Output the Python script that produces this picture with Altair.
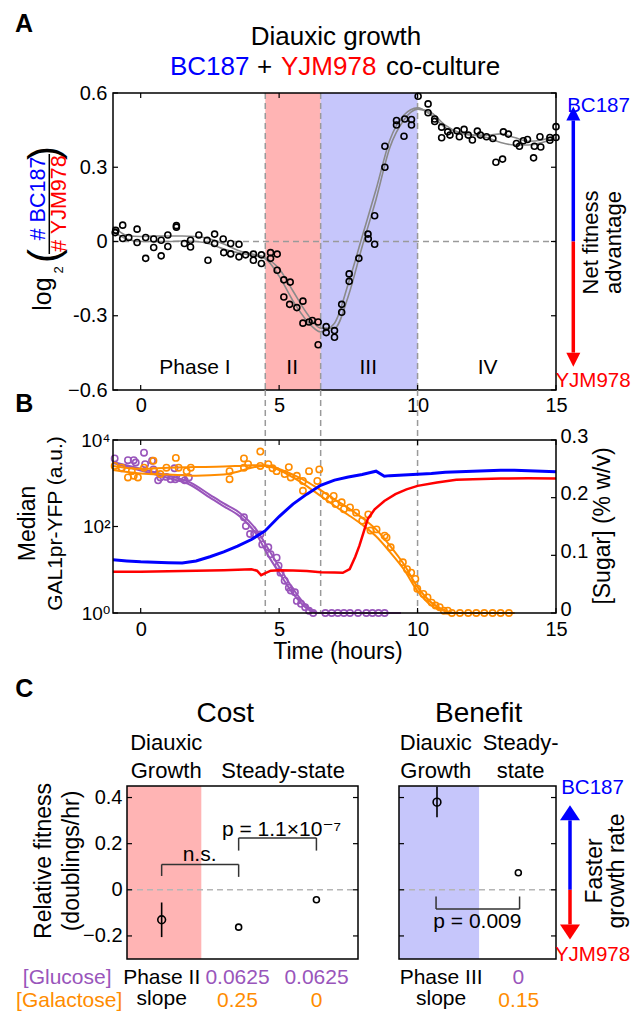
import altair as alt
import pandas as pd

FONT = "Liberation Sans, Arial, DejaVu Sans"
PINK = "#ffb4b4"
LAV = "#c6c6fb"
DASHGRAY = "#9a9a9a"
FITGRAY = "#8a8a8a"
PURPLE = "#9955bb"
ORANGE = "#ff8c00"
BLUE = "#0000ff"
RED = "#ff0000"

# ---------------- Panel A data ----------------
A_time = [-0.92, -0.90, -0.65, -0.65, -0.43, -0.13, -0.13, 0.18, 0.18, 0.47, 0.47, 0.74, 0.74, 0.98, 0.98,
          1.29, 1.29, 1.58, 1.80, 1.80, 2.10, 2.40, 2.43, 2.67, 2.67, 2.98, 3.00, 3.25, 3.25, 3.55, 3.55,
          3.79, 4.07, 4.07, 4.36, 4.36, 4.69, 4.69, 4.93, 4.93,
          5.17, 5.40, 5.17, 5.38, 5.64, 5.86, 5.86, 6.08, 6.20, 6.41, 6.41,
          6.70, 6.70, 7.00, 7.00, 7.26, 7.26, 7.53, 7.53, 7.88, 8.21, 8.22, 8.45, 8.45, 8.82, 8.82,
          9.24, 9.24, 9.54, 9.51, 9.78, 9.78, 10.02,
          10.38, 10.38, 10.62, 10.62, 10.87, 10.87, 11.09, 11.17, 11.42, 11.51, 11.68, 11.83, 11.98, 12.16,
          12.27, 12.49, 12.72, 12.83, 13.07, 13.10, 13.28, 13.57, 13.68, 13.82, 13.97, 14.19, 14.22, 14.42,
          14.45, 14.78, 14.78, 15.00, 15.00]
A_ratio = [0.036, 0.045, 0.066, 0.012, 0.016, 0.050, -0.004, -0.068, 0.016, -0.024, 0.010, 0.005, -0.058, 0.026, -0.020,
           0.064, 0.058, -0.008, 0.005, -0.022, 0.026, 0.005, -0.076, 0.030, -0.008, 0.010, -0.045, -0.008, -0.050, -0.011, -0.062,
           -0.054, -0.051, -0.076, -0.054, -0.089, -0.045, -0.068, -0.051, -0.116,
           -0.155, -0.164, -0.224, -0.254, -0.267, -0.241, -0.330, -0.325, -0.319, -0.325, -0.417,
           -0.344, -0.368, -0.360, -0.387, -0.286, -0.254, -0.161, -0.131, -0.068, 0.030, 0.011, -0.011, 0.104, 0.300, 0.385,
           0.489, 0.471, 0.495, 0.425, 0.493, 0.471, 0.587,
           0.556, 0.520, 0.495, 0.485, 0.462, 0.419, 0.443, 0.430, 0.447, 0.423, 0.453, 0.430, 0.410, 0.446,
           0.430, 0.423, 0.416, 0.320, 0.333, 0.443, 0.434, 0.396, 0.385, 0.407, 0.412, 0.338, 0.385, 0.423,
           0.382, 0.409, 0.420, 0.464, 0.420]
A_fit_time = [-1, -0.5, 0, 0.5, 1, 1.5, 2, 2.5, 3, 3.5, 4, 4.5, 5, 5.5, 6, 6.5, 7, 7.5, 8, 8.5, 9, 9.5, 10,
              10.5, 11, 11.5, 12, 12.5, 13, 13.5, 14, 14.5, 15]
A_fit_1 = [0.06, 0.025, 0.02, 0.022, 0.022, 0.022, 0.02, 0.01, -0.01, -0.035, -0.05, -0.065, -0.11, -0.2, -0.29,
           -0.35, -0.35, -0.22, -0.02, 0.17, 0.38, 0.49, 0.535, 0.52, 0.47, 0.44, 0.43, 0.43, 0.435, 0.42, 0.405, 0.41, 0.43]
A_fit_2 = [0.04, 0.01, 0.0, 0.0, 0.0, 0.002, 0.0, -0.01, -0.03, -0.045, -0.055, -0.07, -0.14, -0.24, -0.32,
           -0.365, -0.33, -0.17, 0.02, 0.21, 0.41, 0.51, 0.54, 0.51, 0.46, 0.44, 0.43, 0.42, 0.40, 0.39, 0.39, 0.40, 0.42]
phase_edges = [4.5, 6.5, 10.0]
shade_phase = ["II", "III"]
shade_start = [4.5, 6.5]
shade_end = [6.5, 10.0]
phase_names = ["Phase I", "II", "III", "IV"]
phase_label_time = [1.96, 5.47, 8.22, 12.53]
time_ticks = [0, 5, 10, 15]
A_yticks = [-0.6, -0.3, 0, 0.3, 0.6]
A_ytick_labels = ["\u22120.6", "-0.3", "0", "0.3", "0.6"]
A_arrow_up_base = [0.489]
A_arrow_down_base = [-0.449]

# ---------------- Panel B data ----------------
blue_time = [-1, -0.5, 0, 0.5, 1, 1.5, 2, 2.5, 3, 3.5, 4, 4.5, 5, 5.5, 6, 6.5, 7, 7.5, 8, 8.3, 8.5, 8.8, 9, 9.5,
             10, 10.5, 11, 11.5, 12, 12.5, 13, 13.5, 14, 14.5, 15]
blue_yfp = [17, 16, 15.3, 15, 14.6, 14.3, 16, 20, 26, 35, 50, 80, 170, 330, 560, 900, 1180, 1400, 1600, 1780, 1900,
            1450, 1500, 1560, 1620, 1680, 1800, 1850, 1900, 1950, 2000, 2000, 1950, 1900, 1850]
red_time = [-1, 0, 1, 2, 3, 4, 4.2, 4.35, 4.5, 4.7, 5, 5.5, 6, 6.5, 7, 7.3, 7.55, 7.75, 7.9, 8.2, 8.45, 8.8, 9.2,
            9.6, 10, 10.7, 11.4, 12, 13, 14, 15]
red_yfp = [9.0, 9.0, 9.2, 9.5, 9.8, 10.3, 9.5, 7.5, 8.4, 9.5, 9.8, 9.6, 9.3, 8.7, 8.6, 8.5, 10.4, 20, 36, 148, 250,
           390, 560, 720, 870, 1040, 1200, 1240, 1280, 1300, 1290]
glc_time = [-0.94, -0.69, -0.46, -0.25, -0.18, 0.12, 0.16, 0.41, 0.46, 0.63, 0.71, 0.93, 1.08, 1.22, 1.25, 1.49,
            1.59, 1.74, 3.73, 3.80, 3.95, 4.10, 4.32, 4.39, 4.61, 4.69, 4.91, 4.98, 5.05, 5.20, 5.35, 5.42, 5.57,
            5.64, 5.79, 5.94, 6.08, 6.23, 6.67, 6.90, 7.12, 7.34, 7.56, 7.85, 8.15, 8.37, 8.59, 8.81]
glc_conc = [0.268, 0.251, 0.265, 0.265, 0.261, 0.278, 0.258, 0.264, 0.249, 0.230, 0.235, 0.236, 0.232, 0.251, 0.232,
            0.234, 0.230, 0.235, 0.166, 0.151, 0.137, 0.137, 0.136, 0.119, 0.114, 0.102, 0.096, 0.082, 0.070, 0.056,
            0.044, 0.039, 0.036, 0.021, 0.016, 0.010, 0.004, 0.0, 0, 0, 0, 0, 0, 0, 0, 0, 0, 0]
glc_fit_time = [-1, 0, 1, 1.8, 2.5, 3, 3.57, 4.17, 4.65, 5, 5.5, 6, 6.4, 9.4]
glc_fit_1 = [0.262, 0.25, 0.238, 0.226, 0.205, 0.19, 0.174, 0.145, 0.108, 0.08, 0.042, 0.012, 0.0, 0.0]
glc_fit_2 = [0.26, 0.247, 0.234, 0.222, 0.2, 0.185, 0.168, 0.137, 0.096, 0.07, 0.034, 0.008, 0.0, 0.0]
gal_time = [-0.94, -0.69, -0.46, -0.32, -0.25, -0.10, 0.12, 0.46, 0.49, 0.71, 0.93, 1.27, 1.37, 1.66, 1.81, 3.21,
            3.21, 3.73, 3.73, 3.88, 4.32, 4.32, 4.61, 4.76, 4.91, 5.20, 5.35, 5.42, 5.64, 5.86, 5.86, 6.08, 6.38,
            6.45, 6.67, 6.82, 6.97, 7.04, 7.26, 7.34, 7.56, 7.78, 8.0, 8.22, 8.30, 8.52, 8.81, 8.88, 9.03, 9.47,
            9.62, 9.77, 9.92, 9.99, 10.21, 10.36, 10.51, 10.65, 10.80, 10.95, 11.09, 11.24, 11.53, 11.83, 12.12,
            12.41, 12.71, 13.0, 13.30]
gal_conc = [0.255, 0.252, 0.235, 0.246, 0.238, 0.235, 0.252, 0.264, 0.246, 0.241, 0.252, 0.269, 0.252, 0.246, 0.252,
            0.246, 0.232, 0.268, 0.252, 0.258, 0.280, 0.255, 0.258, 0.251, 0.246, 0.241, 0.253, 0.235, 0.238, 0.229,
            0.212, 0.246, 0.229, 0.249, 0.203, 0.197, 0.203, 0.189, 0.192, 0.18, 0.183, 0.174, 0.16, 0.171, 0.143,
            0.145, 0.134, 0.131, 0.114, 0.088, 0.076, 0.070, 0.059, 0.042, 0.033, 0.027, 0.018, 0.013, 0.010, 0.004,
            0.004, 0, 0, 0, 0, 0, 0, 0, 0]
gal_fit_time = [-1, 0, 1, 2, 3, 3.5, 4, 4.5, 5, 5.5, 6, 6.5, 7, 7.5, 8, 8.5, 9, 9.5, 10, 10.5, 11, 11.3, 13.5]
gal_fit_1 = [0.255, 0.25, 0.252, 0.253, 0.254, 0.255, 0.256, 0.256, 0.25, 0.24, 0.228, 0.213, 0.197, 0.182, 0.165,
             0.145, 0.117, 0.085, 0.045, 0.018, 0.004, 0.0, 0.0]
gal_fit_2 = [0.248, 0.242, 0.24, 0.238, 0.24, 0.245, 0.252, 0.255, 0.248, 0.235, 0.22, 0.203, 0.186, 0.17, 0.153,
             0.133, 0.106, 0.076, 0.038, 0.013, 0.003, 0.0, 0.0]
yfp_ticks = [1, 100, 10000]
yfp_tick_labels = ["10\u2070", "10\u00b2", "10\u2074"]
sugar_ticks = [0, 0.1, 0.2, 0.3]
sugar_tick_labels = ["0", "0.1", "0.2", "0.3"]

# ---------------- Panel C data ----------------
cost_x = [0.45, 1.45, 2.46]
cost_fit = [-0.13, -0.162, -0.043]
cost_err_lo = [-0.205]
cost_err_hi = [-0.055]
cost_shade_end = [0.965]
cost_brk_h = {"x": [0.45, 1.45], "x2": [1.45, 2.46], "y": [0.11, 0.225]}
cost_brk_v = {"x": [0.45, 1.45, 1.45, 2.46], "y": [0.06, 0.056, 0.17, 0.17], "y2": [0.11, 0.11, 0.225, 0.225]}
cost_p_x = [0.943, 2.007]
cost_p_y = [0.123, 0.232]
cost_p_text = ["n.s.", "p = 1.1\u00d710\u207b\u2077"]
ben_x = [0.242, 0.76]
ben_fit = [0.38, 0.074]
ben_err_lo = [0.315]
ben_err_hi = [0.447]
ben_shade_end = [0.51]
ben_brk_h = {"x": [0.236], "x2": [0.768], "y": [-0.083]}
ben_brk_v = {"x": [0.236, 0.768], "y": [-0.083, -0.083], "y2": [-0.029, -0.029]}
ben_p_x = [0.499]
ben_p_y = [-0.165]
ben_p_text = ["p = 0.009"]
C_yticks = [-0.2, 0, 0.2, 0.4]
C_ytick_labels = ["\u22120.2", "0", "0.2", "0.4"]
C_arrow_up_base = [0.301]
C_arrow_down_base = [-0.15]

ONE = pd.DataFrame({"k": [0]})
UP_A = "M0,-1L-0.5,0L0.5,0Z"
DOWN_A = "M0,1L-0.5,0L0.5,0Z"
UP_C = "M0,-1L-0.667,0L0.667,0Z"
DOWN_C = "M0,1L-0.667,0L0.667,0Z"


def lexpr(vals, labels):
    e = "''"
    for v, l in zip(vals, labels):
        e = f"abs(datum.value - ({v})) < 1e-6 ? '{l}' : ({e})"
    return e


def T(s, x, y, size=21, color="black", angle=0, align="center", baseline="middle", weight="normal"):
    kw = dict(text=s, font=FONT, fontSize=size, color=color, align=align, baseline=baseline, fontWeight=weight)
    if angle:
        kw["angle"] = angle
    return alt.Chart(ONE).mark_text(**kw).encode(x=alt.value(x), y=alt.value(y))


def frame(W, H):
    return alt.Chart(ONE).mark_rect(fillOpacity=0, stroke="black", strokeWidth=1.5).encode(
        x=alt.value(0), x2=alt.value(W), y=alt.value(0), y2=alt.value(H))


def anchor(x, y):
    return alt.Chart(ONE).mark_rect(opacity=0).encode(
        x=alt.value(x), x2=alt.value(x + 4), y=alt.value(y), y2=alt.value(y + 4))


def yticks_in(vals, Y, W, left=True, right=True):
    d = pd.DataFrame({"v": vals})
    out = []
    if left:
        out.append(alt.Chart(d).mark_rule(color="black", strokeWidth=1.2).encode(y=Y("v"), x=alt.value(0), x2=alt.value(5)))
    if right:
        out.append(alt.Chart(d).mark_rule(color="black", strokeWidth=1.2).encode(y=Y("v"), x=alt.value(W - 5), x2=alt.value(W)))
    return out


def xticks_in(vals, X, H):
    d = pd.DataFrame({"t": vals})
    return [alt.Chart(d).mark_rule(color="black", strokeWidth=1.2).encode(x=X("t"), y=alt.value(H - 5), y2=alt.value(H)),
            alt.Chart(d).mark_rule(color="black", strokeWidth=1.2).encode(x=X("t"), y=alt.value(0), y2=alt.value(5))]


def arrow(Y, xpix, up_base, down_base, up_shape, down_shape, size):
    up = alt.Chart(pd.DataFrame({"y0": [0], "y1": up_base})).mark_rule(strokeWidth=3.5, color=BLUE).encode(
        y=Y("y0"), y2="y1", x=alt.value(xpix))
    dn = alt.Chart(pd.DataFrame({"y0": [0], "y1": down_base})).mark_rule(strokeWidth=3.5, color=RED).encode(
        y=Y("y0"), y2="y1", x=alt.value(xpix))
    hu = alt.Chart(pd.DataFrame({"v": up_base})).mark_point(
        shape=up_shape, filled=True, size=size, color=BLUE, opacity=1, strokeWidth=0).encode(y=Y("v"), x=alt.value(xpix))
    hd = alt.Chart(pd.DataFrame({"v": down_base})).mark_point(
        shape=down_shape, filled=True, size=size, color=RED, opacity=1, strokeWidth=0).encode(y=Y("v"), x=alt.value(xpix))
    return [up, dn, hu, hd]


# ================= Panel A =================
W_A, H_A = 443, 297


def XT(f):
    return alt.X(f"{f}:Q", scale=alt.Scale(domain=[-1, 15], nice=False, zero=False),
                 axis=alt.Axis(values=time_ticks, title=None, labelPadding=5, labelFlush=False))


def XTB(f):
    return alt.X(f"{f}:Q", scale=alt.Scale(domain=[-1, 15], nice=False, zero=False),
                 axis=alt.Axis(values=time_ticks, title=None, labelPadding=6.5, labelFlush=False))


def YA(f):
    return alt.Y(f"{f}:Q", scale=alt.Scale(domain=[-0.6, 0.6], nice=False, zero=False),
                 axis=alt.Axis(values=A_yticks, labelExpr=lexpr(A_yticks, A_ytick_labels), title=None,
                               labelPadding=6, labelFlush=False))


shade_df = pd.DataFrame({"phase": shade_phase, "x0": shade_start, "x1": shade_end})
shadeA = alt.Chart(shade_df).mark_rect().encode(
    x=XT("x0"), x2="x1", y=alt.value(0), y2=alt.value(H_A),
    color=alt.Color("phase:N", scale=alt.Scale(domain=shade_phase, range=[PINK, LAV]), legend=None))
edges_df = pd.DataFrame({"t": phase_edges})
vdashA = alt.Chart(edges_df).mark_rule(color=DASHGRAY, strokeDash=[6, 4], strokeWidth=1.5).encode(
    x=XT("t"), y=alt.value(0), y2=alt.value(H_A))
zeroA = alt.Chart(pd.DataFrame({"v": [0]})).mark_rule(color=DASHGRAY, strokeDash=[6, 4], strokeWidth=1.5).encode(
    y=YA("v"), x=alt.value(0), x2=alt.value(W_A))
fit_df = pd.concat([pd.DataFrame({"t": A_fit_time, "v": A_fit_1, "fit": "1"}),
                    pd.DataFrame({"t": A_fit_time, "v": A_fit_2, "fit": "2"})])
fitA = alt.Chart(fit_df).mark_line(color=FITGRAY, strokeWidth=1.6, interpolate="monotone").encode(
    x=XT("t"), y=YA("v"), detail="fit:N")
ptsA = alt.Chart(pd.DataFrame({"t": A_time, "v": A_ratio})).mark_point(
    shape="circle", filled=False, color="black", size=36, strokeWidth=1.6, opacity=1).encode(x=XT("t"), y=YA("v"))
phase_lbl = alt.Chart(pd.DataFrame({"t": phase_label_time, "name": phase_names})).mark_text(
    font=FONT, fontSize=21, color="black", baseline="middle").encode(x=XT("t"), y=alt.value(275), text="name:N")
fracbarA = alt.Chart(ONE).mark_rule(color="black", strokeWidth=1.5).encode(
    x=alt.value(-63.7), y=alt.value(61), y2=alt.value(161))

panelA = alt.layer(
    anchor(-105, -84.3),
    shadeA, vdashA, zeroA, fitA, ptsA, phase_lbl,
    *arrow(YA, 460.3, A_arrow_up_base, A_arrow_down_base, UP_A, DOWN_A, 784),
    *yticks_in(A_yticks, YA, W_A), *xticks_in(time_ticks, XT, H_A), frame(W_A, H_A), fracbarA,
    T("A", -89, -69, size=25, weight="bold"),
    T("Diauxic growth", 223, -56, size=26),
    T("BC187", 57, -18, size=26, color=BLUE, align="left", baseline="alphabetic"),
    T("+", 144, -18, size=26, align="left", baseline="alphabetic"),
    T("YJM978", 168, -18, size=26, color=RED, align="left", baseline="alphabetic"),
    T("co-culture", 273, -18, size=26, align="left", baseline="alphabetic"),
    T(")", -55, 60, size=42, angle=270, baseline="alphabetic"),
    T("(", -55, 163, size=42, angle=270, baseline="alphabetic"),
    T("# BC187", -68, 105.5, size=21.5, color=BLUE, angle=270, baseline="alphabetic"),
    T("# YJM978", -47, 110.5, size=21.5, color=RED, angle=270, baseline="alphabetic"),
    T("log", -62, 201, size=25, angle=270, baseline="alphabetic"),
    T("2", -50, 177, size=13, angle=270, baseline="alphabetic"),
    T("BC187", 485.5, 19.4, size=20.5, color=BLUE, baseline="alphabetic"),
    T("YJM978", 480, 294.4, size=20.5, color=RED, baseline="alphabetic"),
    T("Net fitness", 485.3, 149.5, size=22, angle=270, baseline="alphabetic"),
    T("advantage", 507.5, 149.5, size=22, angle=270, baseline="alphabetic"),
).properties(width=W_A, height=H_A)

# ================= Panel B =================
W_B, H_B = 443, 173


def YL(f):
    return alt.Y(f"{f}:Q", scale=alt.Scale(type="log", domain=[1, 10000], nice=False),
                 axis=alt.Axis(orient="left", values=yfp_ticks, labelExpr=lexpr(yfp_ticks, yfp_tick_labels),
                               title=None, labelPadding=3, labelFlush=False, labelFontSize=19))


def YR(f):
    return alt.Y(f"{f}:Q", scale=alt.Scale(domain=[0, 0.3], nice=False, zero=False),
                 axis=alt.Axis(orient="right", values=sugar_ticks, labelExpr=lexpr(sugar_ticks, sugar_tick_labels),
                               title=None, labelPadding=4, labelFlush=False, labelOffset=-4))


vdashB = alt.Chart(edges_df).mark_rule(color=DASHGRAY, strokeDash=[6, 4], strokeWidth=1.5).encode(
    x=XTB("t"), y=alt.value(-50), y2=alt.value(H_B))
glc_pts = alt.Chart(pd.DataFrame({"t": glc_time, "s": glc_conc})).mark_point(
    shape="circle", filled=False, color=PURPLE, size=40, strokeWidth=1.6, opacity=1).encode(x=XTB("t"), y=YR("s"))
glc_fit_df = pd.concat([pd.DataFrame({"t": glc_fit_time, "s": glc_fit_1, "fit": "1"}),
                        pd.DataFrame({"t": glc_fit_time, "s": glc_fit_2, "fit": "2"})])
glc_fit = alt.Chart(glc_fit_df).mark_line(color=PURPLE, strokeWidth=2, interpolate="monotone").encode(
    x=XTB("t"), y=YR("s"), detail="fit:N")
gal_pts = alt.Chart(pd.DataFrame({"t": gal_time, "s": gal_conc})).mark_point(
    shape="circle", filled=False, color=ORANGE, size=40, strokeWidth=1.6, opacity=1).encode(x=XTB("t"), y=YR("s"))
gal_fit_df = pd.concat([pd.DataFrame({"t": gal_fit_time, "s": gal_fit_1, "fit": "1"}),
                        pd.DataFrame({"t": gal_fit_time, "s": gal_fit_2, "fit": "2"})])
gal_fit = alt.Chart(gal_fit_df).mark_line(color=ORANGE, strokeWidth=2, interpolate="monotone").encode(
    x=XTB("t"), y=YR("s"), detail="fit:N")
sugar_layer = alt.layer(vdashB, glc_fit, glc_pts, gal_fit, gal_pts,
                        *yticks_in(sugar_ticks, YR, W_B, left=False, right=True))

blue_line = alt.Chart(pd.DataFrame({"t": blue_time, "y": blue_yfp})).mark_line(color=BLUE, strokeWidth=3).encode(
    x=XTB("t"), y=YL("y"))
red_line = alt.Chart(pd.DataFrame({"t": red_time, "y": red_yfp})).mark_line(color=RED, strokeWidth=2.5).encode(
    x=XTB("t"), y=YL("y"))
yfp_layer = alt.layer(blue_line, red_line, *yticks_in(yfp_ticks, YL, W_B, left=True, right=False),
                      *xticks_in(time_ticks, XTB, H_B), frame(W_B, H_B),
                      T("B", -88.6, -36, size=25, weight="bold"),
                      T("Median", -78, 83.5, size=23, angle=270, baseline="alphabetic"),
                      T("GAL1pr-YFP (a.u.)", -51, 83.5, size=21, angle=270, baseline="alphabetic"),
                      T("[Sugar] (% w/v)", 497, 86, size=23, angle=270, baseline="alphabetic"),
                      T("Time (hours)", 225, 211.8, size=23))

panelB = alt.layer(sugar_layer, yfp_layer).resolve_scale(y="independent").properties(width=W_B, height=H_B)

# ================= Panel C =================
W_CL, W_CR, H_C = 231, 157, 173


def YC(f):
    return alt.Y(f"{f}:Q", scale=alt.Scale(domain=[-0.3, 0.45], nice=False, zero=False),
                 axis=alt.Axis(values=C_yticks, labelExpr=lexpr(C_yticks, C_ytick_labels), title=None,
                               labelPadding=5, labelFlush=False))


def YCn(f):
    return alt.Y(f"{f}:Q", scale=alt.Scale(domain=[-0.3, 0.45], nice=False, zero=False), axis=None)


def XCL(f):
    return alt.X(f"{f}:Q", scale=alt.Scale(domain=[0, 3], nice=False, zero=False), axis=None)


def XCR(f):
    return alt.X(f"{f}:Q", scale=alt.Scale(domain=[0, 1], nice=False, zero=False), axis=None)


def c_panel(X, Y, W, shade_color, shade_end, xs, ys, err_lo, err_hi, brk_h, brk_v, p_x, p_y, p_text):
    shade = alt.Chart(pd.DataFrame({"x0": [0], "x1": shade_end})).mark_rect(color=shade_color).encode(
        x=X("x0"), x2="x1", y=alt.value(0), y2=alt.value(H_C))
    zero = alt.Chart(pd.DataFrame({"v": [0]})).mark_rule(color="#b5b5b5", strokeDash=[6, 4], strokeWidth=1.5).encode(
        y=Y("v"), x=alt.value(0), x2=alt.value(W))
    err = alt.Chart(pd.DataFrame({"x": xs[:1], "lo": err_lo, "hi": err_hi})).mark_rule(
        color="black", strokeWidth=1.6).encode(x=X("x"), y=Y("lo"), y2="hi")
    p_main = alt.Chart(pd.DataFrame({"x": xs[:1], "v": ys[:1]})).mark_point(
        shape="circle", filled=False, color="black", size=60, strokeWidth=1.6, opacity=1).encode(x=X("x"), y=Y("v"))
    p_ss = alt.Chart(pd.DataFrame({"x": xs[1:], "v": ys[1:]})).mark_point(
        shape="circle", filled=False, color="black", size=36, strokeWidth=1.6, opacity=1).encode(x=X("x"), y=Y("v"))
    bh = alt.Chart(pd.DataFrame(brk_h)).mark_rule(color="#333333", strokeWidth=1.5).encode(
        x=X("x"), x2="x2", y=Y("y"))
    bv = alt.Chart(pd.DataFrame(brk_v)).mark_rule(color="#333333", strokeWidth=1.5).encode(
        x=X("x"), y=Y("y"), y2="y2")
    ptxt = alt.Chart(pd.DataFrame({"x": p_x, "y": p_y, "label": p_text})).mark_text(
        font=FONT, fontSize=21, color="black", baseline="alphabetic").encode(x=X("x"), y=Y("y"), text="label:N")
    return [shade, zero, bh, bv, err, p_main, p_ss, ptxt, *yticks_in(C_yticks, Y, W), frame(W, H_C)]


G_BASE = 197.7     # glucose row baseline (px below panel top)
S_BASE = 218.7     # "slope" baseline
GAL_BASE = 220.7   # galactose row baseline

panelCL = alt.layer(
    *c_panel(XCL, YC, W_CL, PINK, cost_shade_end, cost_x, cost_fit, cost_err_lo, cost_err_hi,
             cost_brk_h, cost_brk_v, cost_p_x, cost_p_y, cost_p_text),
    T("C", -102.6, -97, size=25, weight="bold"),
    T("Cost", 98.3, -72, size=28),
    T("Diauxic", 39.2, -43, size=22),
    T("Growth", 39.2, -14.7, size=22),
    T("Steady-state", 156.1, -14.7, size=22),
    T("Relative fitness", -76, 75, size=23, angle=270, baseline="alphabetic"),
    T("(doublings/hr)", -48, 75, size=23, angle=270, baseline="alphabetic"),
    T("[Glucose]", -59.8, G_BASE, size=21, color=PURPLE, baseline="alphabetic"),
    T("[Galactose]", -57.8, GAL_BASE, size=21, color=ORANGE, baseline="alphabetic"),
    T("Phase II", 34.7, G_BASE, size=21, baseline="alphabetic"),
    T("slope", 34.7, S_BASE, size=21, baseline="alphabetic"),
    T("0.0625", 110.5, G_BASE, size=21, color=PURPLE, baseline="alphabetic"),
    T("0.0625", 189.5, G_BASE, size=21, color=PURPLE, baseline="alphabetic"),
    T("0.25", 110.5, GAL_BASE, size=21, color=ORANGE, baseline="alphabetic"),
    T("0", 189.5, GAL_BASE, size=21, color=ORANGE, baseline="alphabetic"),
).properties(width=W_CL, height=H_C)

panelCR = alt.layer(
    *c_panel(XCR, YCn, W_CR, LAV, ben_shade_end, ben_x, ben_fit, ben_err_lo, ben_err_hi,
             ben_brk_h, ben_brk_v, ben_p_x, ben_p_y, ben_p_text),
    *arrow(YCn, 171, C_arrow_up_base, C_arrow_down_base, UP_C, DOWN_C, 900),
    T("Benefit", 79.6, -72, size=28),
    T("Diauxic", 36.8, -43, size=22),
    T("Growth", 36.8, -14.7, size=22),
    T("Steady-", 121.6, -43, size=22),
    T("state", 121.6, -14.7, size=22),
    T("Phase III", 42.1, G_BASE, size=21, baseline="alphabetic"),
    T("slope", 42.1, S_BASE, size=21, baseline="alphabetic"),
    T("0", 119.3, G_BASE, size=21, color=PURPLE, baseline="alphabetic"),
    T("0.15", 119.8, GAL_BASE, size=21, color=ORANGE, baseline="alphabetic"),
    T("BC187", 193.5, 8.3, size=20.5, color=BLUE, baseline="alphabetic"),
    T("YJM978", 193.5, 175, size=20.5, color=RED, baseline="alphabetic"),
    T("Faster", 202.7, 85, size=23, angle=270, baseline="alphabetic"),
    T("growth rate", 224.5, 85, size=23, angle=270, baseline="alphabetic"),
    anchor(228, 220.7),
).properties(width=W_CR, height=H_C)

hspacer = alt.Chart(ONE).mark_point(opacity=0).encode(x=alt.value(0), y=alt.value(0)).properties(width=1, height=1)
vspacer = alt.Chart(ONE).mark_point(opacity=0).encode(x=alt.value(0), y=alt.value(0)).properties(width=1, height=73)

rowC = alt.hconcat(hspacer, alt.hconcat(panelCL, panelCR, spacing=41, bounds="flush"), spacing=13, bounds="flush")

chart = alt.vconcat(panelA, panelB, vspacer, rowC, spacing=50, bounds="flush").properties(
    padding=0
).configure_view(stroke=None).configure_axis(
    labelFont=FONT, labelFontSize=20, labelColor="black", domain=False, ticks=False, grid=False
)

chart.save("out.html", embed_options={"renderer": "svg", "actions": False})
